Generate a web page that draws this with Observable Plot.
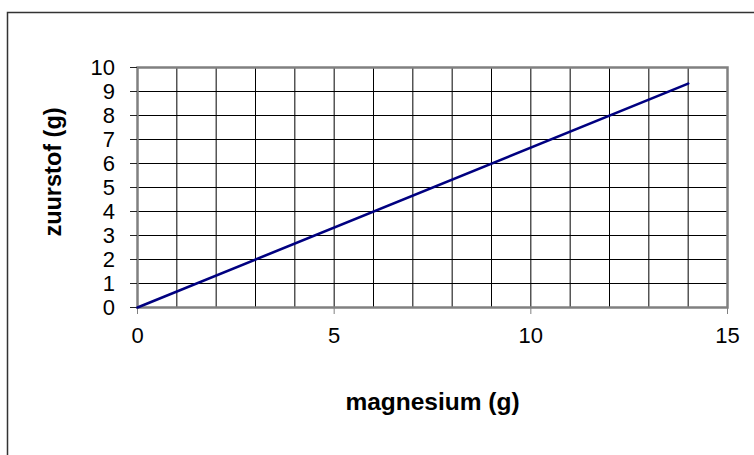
<!DOCTYPE html>
<html>
<head>
<meta charset="utf-8">
<script src="https://cdn.jsdelivr.net/npm/d3@7"></script>
<script src="https://cdn.jsdelivr.net/npm/@observablehq/plot@0.6"></script>
<style>
  html, body { margin: 0; padding: 0; background: #fff; }
  #chart svg { display: block; }
</style>
</head>
<body>
<div id="chart"></div>
<script>
const magnesium = [0, 14];
const zuurstof = [0, 9.33];
const xTicks = [0, 5, 10, 15];
const yTicks = [0, 1, 2, 3, 4, 5, 6, 7, 8, 9, 10];
const xGrid = d3.range(0, 16, 1);
const xTitle = "magnesium (g)";
const yTitle = "zuurstof (g)";

const data = magnesium.map((m, i) => ({m, z: zuurstof[i]}));

const chart = Plot.plot({
  width: 754,
  height: 455,
  marginLeft: 137,
  marginRight: 27,
  marginTop: 67,
  marginBottom: 148,
  style: { fontFamily: "'Liberation Sans', Arial, sans-serif", fontSize: "22px", background: "#fff", color: "#000" },
  x: { domain: [0, 15], label: null },
  y: { domain: [0, 10], label: null },
  marks: [
    Plot.gridX(xGrid, { stroke: "#000", strokeOpacity: 1, strokeWidth: 1 }),
    Plot.gridY(yTicks, { stroke: "#000", strokeOpacity: 1, strokeWidth: 1 }),
    Plot.frame({ stroke: "#808080", strokeWidth: 2.5 }),
    Plot.axisY(yTicks, { label: null, tickSize: 7, tickPadding: 15.5, stroke: "#222", tickFormat: d => String(d) }),
    Plot.axisX(xTicks, { label: null, tickSize: 7, tickPadding: 13, stroke: "#808080", tickFormat: d => String(d), fill: "#000" }),
    Plot.line(data, { x: "m", y: "z", stroke: "#000080", strokeWidth: 2.6 }),
    Plot.text([xTitle], { frameAnchor: "bottom", lineAnchor: "middle", textAnchor: "middle", dy: 95, fontSize: 24.5, fontWeight: "bold", text: d => d }),
    Plot.text([yTitle], { frameAnchor: "left", lineAnchor: "middle", textAnchor: "middle", dx: -84, dy: -15.5, rotate: -90, fontSize: 23.5, fontWeight: "bold", text: d => d })
  ]
});
document.getElementById("chart").appendChild(chart);

d3.select(chart).insert("rect", ":first-child")
  .attr("x", 7.5).attr("y", 12.5).attr("width", 800).attr("height", 500)
  .attr("fill", "none").attr("stroke", "#333").attr("stroke-width", 1.5);
</script>
</body>
</html>
